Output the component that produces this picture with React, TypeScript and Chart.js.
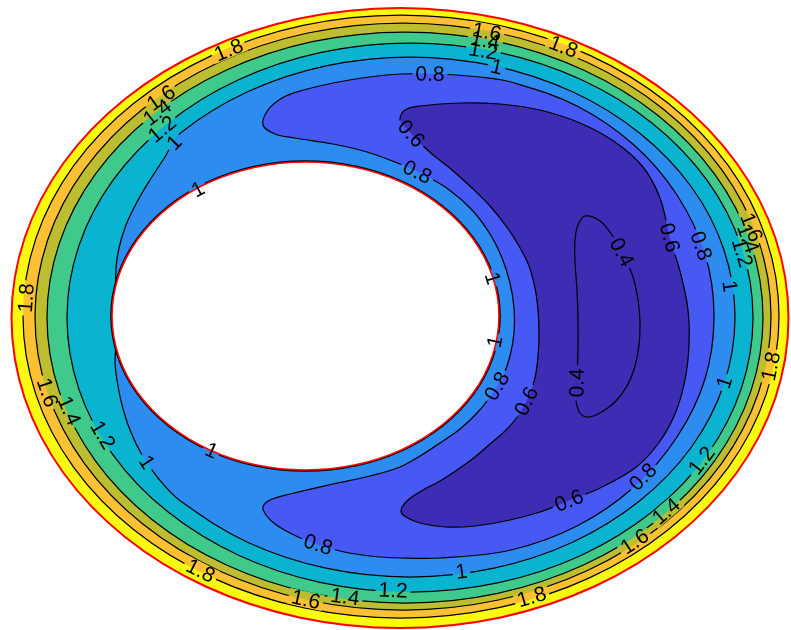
import React, { useEffect, useRef } from "react";
import { Chart, registerables } from "chart.js";

Chart.register(...registerables);

type Pt = [number, number];

// ---- plot window (domain units) ----
const X_MIN = -4.0;
const X_MAX = 3.91;
const Y_MIN = -3.12;
const Y_MAX = 3.18;

// ---- domain walls ----
const outerWall: Pt[] = [
  [3.885, 0], [3.753, 0.803], [3.365, 1.55], [2.747, 2.192], [1.943, 2.685], [1.006, 2.994],
  [0, 3.1], [-1.006, 2.994], [-1.943, 2.685], [-2.747, 2.192], [-3.365, 1.55], [-3.753, 0.803],
  [-3.885, 0], [-3.753, -0.803], [-3.365, -1.55], [-2.747, -2.192], [-1.943, -2.685], [-1.006, -2.994],
  [0, -3.1], [1.006, -2.994], [1.943, -2.685], [2.747, -2.192], [3.365, -1.55], [3.753, -0.803],
];

const innerWall: Pt[] = [
  [0.99, 0.02], [0.924, 0.419], [0.731, 0.79], [0.423, 1.109], [0.023, 1.354], [-0.444, 1.508],
  [-0.945, 1.56], [-1.446, 1.508], [-1.913, 1.354], [-2.313, 1.109], [-2.621, 0.79], [-2.814, 0.419],
  [-2.88, 0.02], [-2.814, -0.379], [-2.621, -0.75], [-2.313, -1.069], [-1.913, -1.314], [-1.446, -1.468],
  [-0.945, -1.52], [-0.444, -1.468], [0.023, -1.314], [0.423, -1.069], [0.731, -0.75], [0.924, -0.379],
];

// ---- contour levels ----
const level18: Pt[] = [
  [3.79, 0.015], [3.661, 0.796], [3.283, 1.523], [2.682, 2.147], [1.9, 2.626], [0.989, 2.927],
  [0.01, 3.03], [-0.969, 2.927], [-1.88, 2.626], [-2.662, 2.147], [-3.263, 1.523], [-3.641, 0.796],
  [-3.77, 0.015], [-3.641, -0.766], [-3.263, -1.493], [-2.662, -2.117], [-1.88, -2.596], [-0.969, -2.897],
  [0.01, -3.0], [0.989, -2.897], [1.9, -2.596], [2.682, -2.117], [3.283, -1.493], [3.661, -0.766],
];

const level16: Pt[] = [
  [3.71, 0.015], [3.585, 0.775], [3.217, 1.483], [2.632, 2.09], [1.87, 2.557], [0.983, 2.85],
  [0.03, 2.95], [-0.923, 2.85], [-1.81, 2.557], [-2.572, 2.09], [-3.157, 1.483], [-3.525, 0.775],
  [-3.65, 0.015], [-3.525, -0.745], [-3.157, -1.453], [-2.572, -2.06], [-1.81, -2.527], [-0.923, -2.82],
  [0.03, -2.92], [0.983, -2.82], [1.87, -2.527], [2.632, -2.06], [3.217, -1.453], [3.585, -0.745],
];

const level14: Pt[] = [
  [3.63, 0.005], [3.508, 0.744], [3.15, 1.433], [2.581, 2.024], [1.84, 2.477], [0.977, 2.763],
  [0.05, 2.86], [-0.877, 2.763], [-1.74, 2.477], [-2.481, 2.024], [-3.05, 1.433], [-3.408, 0.744],
  [-3.53, 0.005], [-3.408, -0.734], [-3.05, -1.423], [-2.481, -2.014], [-1.74, -2.467], [-0.877, -2.753],
  [0.05, -2.85], [0.977, -2.753], [1.84, -2.467], [2.581, -2.014], [3.15, -1.423], [3.508, -0.734],
];

const level12: Pt[] = [
  [3.53, 0.005], [3.413, 0.716], [3.07, 1.378], [2.525, 1.946], [1.815, 2.382], [0.988, 2.656],
  [0.1, 2.75], [-0.788, 2.656], [-1.615, 2.382], [-2.325, 1.946], [-2.87, 1.378], [-3.213, 0.716],
  [-3.33, 0.005], [-3.213, -0.706], [-2.87, -1.368], [-2.325, -1.936], [-1.615, -2.372], [-0.788, -2.646],
  [0.1, -2.74], [0.988, -2.646], [1.815, -2.372], [2.525, -1.936], [3.07, -1.368], [3.413, -0.706],
];

const level10: Pt[] = [
  [-2.84, 0.31], [-2.84, 0.5], [-2.81, 0.7], [-2.74, 0.93], [-2.63, 1.16], [-2.5, 1.38], [-2.35, 1.61],
  [-2.198, 1.848], [-1.525, 2.262], [-0.741, 2.521], [0.1, 2.61], [0.941, 2.521], [1.725, 2.262],
  [2.398, 1.848], [2.915, 1.31], [3.239, 0.683], [3.35, 0.01], [3.239, -0.663], [2.915, -1.29],
  [2.398, -1.828], [1.725, -2.242], [0.941, -2.501], [0.1, -2.59], [-0.741, -2.501], [-1.525, -2.242],
  [-2.198, -1.828], [-2.42, -1.6], [-2.58, -1.37], [-2.7, -1.12], [-2.78, -0.87], [-2.83, -0.62],
  [-2.85, -0.44], [-2.84, -0.29], [-2.81, 0.02],
];

const level08: Pt[] = [
  [-1.37, 1.93], [-1.32, 2.08], [-1.18, 2.2], [-1.0, 2.27], [-0.67, 2.35], [-0.31, 2.41], [0.0, 2.44],
  [0.4, 2.44], [0.8, 2.41], [1.11, 2.36], [1.77, 2.12], [2.34, 1.73], [2.77, 1.23], [3.05, 0.64],
  [3.14, 0.02], [3.05, -0.61], [2.77, -1.19], [2.34, -1.69], [1.77, -2.08], [1.11, -2.32], [0.4, -2.4],
  [0.0, -2.4], [-0.3, -2.38], [-0.6, -2.33], [-0.9, -2.24], [-1.1, -2.15], [-1.25, -2.06], [-1.34, -1.97],
  [-1.37, -1.89], [-1.3, -1.82], [-1.1, -1.76], [-0.67, -1.66], [-0.3, -1.58], [0.0, -1.49], [0.2, -1.38],
  [0.4, -1.25], [0.6, -1.11], [0.78, -0.94], [0.92, -0.76], [1.03, -0.58], [1.1, -0.38], [1.14, -0.15],
  [1.14, 0.1], [1.1, 0.35], [1.02, 0.6], [0.9, 0.84], [0.72, 1.08], [0.48, 1.29], [0.22, 1.44],
  [0.0, 1.54], [-0.33, 1.66], [-0.67, 1.74], [-1.05, 1.8], [-1.25, 1.84],
];

const level06: Pt[] = [
  [0.0, 1.98], [0.05, 2.08], [0.2, 2.12], [0.6, 2.15], [1.0, 2.14], [1.4, 2.08], [1.8, 1.95],
  [2.15, 1.76], [2.43, 1.51], [2.6, 1.2], [2.7, 0.8], [2.81, 0.43], [2.88, 0.08], [2.89, -0.27],
  [2.85, -0.62], [2.75, -0.96], [2.58, -1.26], [2.35, -1.5], [2.0, -1.7], [1.68, -1.83], [1.4, -1.94],
  [1.1, -2.02], [0.75, -2.08], [0.45, -2.09], [0.2, -2.05], [0.06, -1.99], [0.01, -1.93], [0.07, -1.83],
  [0.23, -1.72], [0.4, -1.63], [0.57, -1.52], [0.75, -1.39], [0.9, -1.26], [1.05, -1.13], [1.18, -0.98],
  [1.28, -0.8], [1.35, -0.6], [1.38, -0.38], [1.39, -0.15], [1.38, 0.08], [1.35, 0.3], [1.29, 0.52],
  [1.19, 0.72], [1.06, 0.92], [0.9, 1.12], [0.72, 1.3], [0.52, 1.48], [0.32, 1.64], [0.18, 1.77],
  [0.08, 1.88],
];

const level04: Pt[] = [
  [1.85, 1.02], [2.0, 0.97], [2.12, 0.83], [2.24, 0.62], [2.33, 0.41], [2.38, 0.18], [2.4, -0.04],
  [2.39, -0.27], [2.35, -0.48], [2.27, -0.68], [2.15, -0.84], [2.0, -0.95], [1.88, -0.99], [1.8, -0.95],
  [1.76, -0.82], [1.77, -0.6], [1.78, -0.32], [1.78, -0.02], [1.77, 0.28], [1.75, 0.56], [1.75, 0.78],
  [1.78, 0.93],
];

// ---- contour labels (level value and approximate location) ----
const labelLevels: number[] = [
  1.8, 1.8, 1.6, 1.4, 1.2, 1,
  1.6, 1.4, 1.2, 1,
  1.8,
  1.6, 1.4, 1.2, 1,
  1.8, 1.6, 1.4, 1.2, 1, 1.8,
  1.6, 1.4, 1.2, 1, 1.8,
  1.6, 1.4, 1.2, 1,
  0.8, 0.6, 0.4,
  0.8, 0.6, 0.8,
  0.4, 0.8, 0.6,
  0.8, 0.6, 0.8,
  1, 1, 1, 1,
];
const labelX: number[] = [
  -1.72, 1.65, 0.87, 0.85, 0.83, 0.97,
  -2.4, -2.43, -2.4, -2.25,
  -3.74,
  -3.58, -3.35, -3.03, -2.53,
  -2.02, -0.95, -0.55, -0.07, 0.62, 1.33,
  2.38, 2.68, 3.03, 3.28, 3.81,
  3.52, 3.45, 3.4, 3.31,
  3.03, 2.68, 2.17,
  0.3, 0.12, 0.16,
  1.78, 0.95, 1.17,
  -0.82, 1.68, 2.43,
  -2.03, -1.9, 0.88, 0.97,
];
const labelY: number[] = [
  2.7, 2.76, 2.87, 2.76, 2.65, 2.52,
  2.22, 2.06, 1.91, 1.75,
  0.2,
  -0.77, -0.95, -1.2, -1.44,
  -2.57, -2.84, -2.8, -2.74, -2.59, -2.83,
  -2.29, -1.95, -1.44, -0.65, -0.5,
  0.91, 0.78, 0.65, 0.32,
  0.73, 0.8, 0.63,
  2.43, 1.85, 1.43,
  -0.65, -0.67, -0.78,
  -2.27, -1.8, -1.59,
  1.3, -1.37, 0.39, -0.24,
];

// ---- styles ----
const COLORS = {
  wall: "#ff0000",
  line: "#000000",
  hole: "#ffffff",
  b18: "#f9fa0f",
  b16: "#fbc133",
  b14: "#bcbd2f",
  b12: "#3fc98b",
  b10: "#0ab4d0",
  b08: "#2d8cf0",
  b06: "#4759f5",
  b04: "#3c2db4",
  b02: "#3c2db4",
};
const LABEL_FONT = '21px "Liberation Sans", Arial, Helvetica, sans-serif';
const CONTOUR_WIDTH = 1.25;

const labelCurves: { level: number; pts: Pt[] }[] = [
  { level: 1.8, pts: level18 },
  { level: 1.6, pts: level16 },
  { level: 1.4, pts: level14 },
  { level: 1.2, pts: level12 },
  { level: 1, pts: level10 },
  { level: 1, pts: innerWall },
  { level: 0.8, pts: level08 },
  { level: 0.6, pts: level06 },
  { level: 0.4, pts: level04 },
];

const fmt = (v: number) => (Number.isInteger(v) ? String(v) : v.toFixed(1));
const toXY = (pts: Pt[]) => pts.map(([x, y]) => ({ x, y }));

type LabelBox = { x: number; y: number; a: number; text: string; w: number };

function layoutLabels(chart: any): LabelBox[] {
  const sx = chart.scales.x;
  const sy = chart.scales.y;
  const P = (p: Pt): Pt => [sx.getPixelForValue(p[0]), sy.getPixelForValue(p[1])];
  const ctx = chart.ctx;
  ctx.save();
  ctx.font = LABEL_FONT;
  const out: LabelBox[] = [];
  for (let i = 0; i < labelLevels.length; i++) {
    const v = labelLevels[i];
    const [lx, ly] = P([labelX[i], labelY[i]]);
    let best = Infinity;
    let bx = lx;
    let by = ly;
    let ang = 0;
    for (const c of labelCurves) {
      if (Math.abs(c.level - v) > 1e-6) continue;
      const q = c.pts.map(P);
      const n = q.length;
      const tan = (k: number) => {
        const a = q[(k - 1 + n) % n];
        const b = q[(k + 1) % n];
        const dx = b[0] - a[0];
        const dy = b[1] - a[1];
        const l = Math.hypot(dx, dy) || 1;
        return [dx / l, dy / l];
      };
      for (let k = 0; k < n; k++) {
        const a = q[k];
        const b = q[(k + 1) % n];
        const dx = b[0] - a[0];
        const dy = b[1] - a[1];
        const L2 = dx * dx + dy * dy || 1;
        let t = ((lx - a[0]) * dx + (ly - a[1]) * dy) / L2;
        t = Math.max(0, Math.min(1, t));
        const px = a[0] + t * dx;
        const py = a[1] + t * dy;
        const d = (px - lx) ** 2 + (py - ly) ** 2;
        if (d < best) {
          best = d;
          bx = px;
          by = py;
          const t0 = tan(k);
          const t1 = tan((k + 1) % n);
          ang = Math.atan2(t0[1] * (1 - t) + t1[1] * t, t0[0] * (1 - t) + t1[0] * t);
        }
      }
    }
    while (ang > Math.PI / 2) ang -= Math.PI;
    while (ang <= -Math.PI / 2) ang += Math.PI;
    const text = fmt(v);
    out.push({ x: bx, y: by, a: ang, text, w: ctx.measureText(text).width });
  }
  ctx.restore();
  return out;
}

function boxPath(ctx: CanvasRenderingContext2D, b: LabelBox) {
  const hw = b.w / 2 + 3;
  const hh = 8;
  const c = Math.cos(b.a);
  const s = Math.sin(b.a);
  const corners: Pt[] = [
    [-hw, -hh], [hw, -hh], [hw, hh], [-hw, hh],
  ];
  corners.forEach(([u, v], i) => {
    const X = b.x + u * c - v * s;
    const Y = b.y + u * s + v * c;
    if (i === 0) ctx.moveTo(X, Y);
    else ctx.lineTo(X, Y);
  });
  ctx.closePath();
}

export default function App() {
  const canvasRef = useRef<HTMLCanvasElement | null>(null);

  useEffect(() => {
    const canvas = canvasRef.current;
    if (!canvas) return;
    let boxes: LabelBox[] | null = null;

    const contourPlugin = {
      id: "contourTools",
      afterDatasetUpdate(chart: any, args: any) {
        const line = args.meta && args.meta.dataset;
        if (line) {
          line._loop = true;
          line._fullLoop = true;
          delete line._segments;
          delete line._path;
        }
      },
      beforeDatasetsDraw(chart: any) {
        boxes = layoutLabels(chart);
      },
      beforeDatasetDraw(chart: any, args: any) {
        const ds = chart.data.datasets[args.index];
        if (!ds.breakAtLabels || !boxes) return;
        const ctx = chart.ctx;
        ctx.save();
        for (const b of boxes) {
          ctx.beginPath();
          ctx.rect(0, 0, chart.width, chart.height);
          boxPath(ctx, b);
          ctx.clip("evenodd");
        }
      },
      afterDatasetDraw(chart: any, args: any) {
        const ds = chart.data.datasets[args.index];
        if (!ds.breakAtLabels || !boxes) return;
        chart.ctx.restore();
      },
      afterDatasetsDraw(chart: any) {
        if (!boxes) return;
        const ctx = chart.ctx;
        ctx.save();
        ctx.font = LABEL_FONT;
        ctx.fillStyle = "#000000";
        ctx.textAlign = "center";
        ctx.textBaseline = "middle";
        for (const b of boxes) {
          ctx.save();
          ctx.translate(b.x, b.y);
          ctx.rotate(b.a);
          ctx.fillText(b.text, 0, 1);
          ctx.restore();
        }
        ctx.restore();
      },
    };

    const contour = (pts: Pt[], fillColor: string) => ({
      data: toXY(pts),
      showLine: true,
      fill: "shape",
      backgroundColor: fillColor,
      borderColor: COLORS.line,
      borderWidth: CONTOUR_WIDTH,
      breakAtLabels: true,
    });

    const chart = new Chart(canvas, {
      type: "scatter",
      data: {
        datasets: [
          {
            data: toXY(innerWall),
            showLine: true,
            fill: "shape",
            backgroundColor: COLORS.hole,
            borderColor: COLORS.wall,
            borderWidth: 1.6,
          },
          {
            data: toXY(innerWall),
            showLine: true,
            fill: false,
            borderColor: COLORS.line,
            borderWidth: 3.6,
            breakAtLabels: true,
          },
          contour(level04, COLORS.b02),
          contour(level06, COLORS.b04),
          contour(level08, COLORS.b06),
          contour(level10, COLORS.b08),
          contour(level12, COLORS.b10),
          contour(level14, COLORS.b12),
          contour(level16, COLORS.b14),
          contour(level18, COLORS.b16),
          {
            data: toXY(outerWall),
            showLine: true,
            fill: "shape",
            backgroundColor: COLORS.b18,
            borderColor: COLORS.wall,
            borderWidth: 2,
          },
        ] as any,
      },
      options: {
        responsive: false,
        animation: false,
        events: [],
        layout: { padding: 0 },
        elements: {
          point: { radius: 0, hoverRadius: 0, hitRadius: 0 },
          line: { tension: 0.36 },
        },
        scales: {
          x: { type: "linear", min: X_MIN, max: X_MAX, display: false },
          y: { type: "linear", min: Y_MIN, max: Y_MAX, display: false },
        },
        plugins: {
          legend: { display: false },
          tooltip: { enabled: false },
          filler: { drawTime: "beforeDatasetDraw", propagate: false },
        },
      } as any,
      plugins: [contourPlugin as any],
    });

    return () => chart.destroy();
  }, []);

  return (
    <div style={{ position: "fixed", left: 0, top: 0, width: 791, height: 630, background: "#ffffff" }}>
      <canvas ref={canvasRef} width={791} height={630} style={{ display: "block" }} />
    </div>
  );
}
